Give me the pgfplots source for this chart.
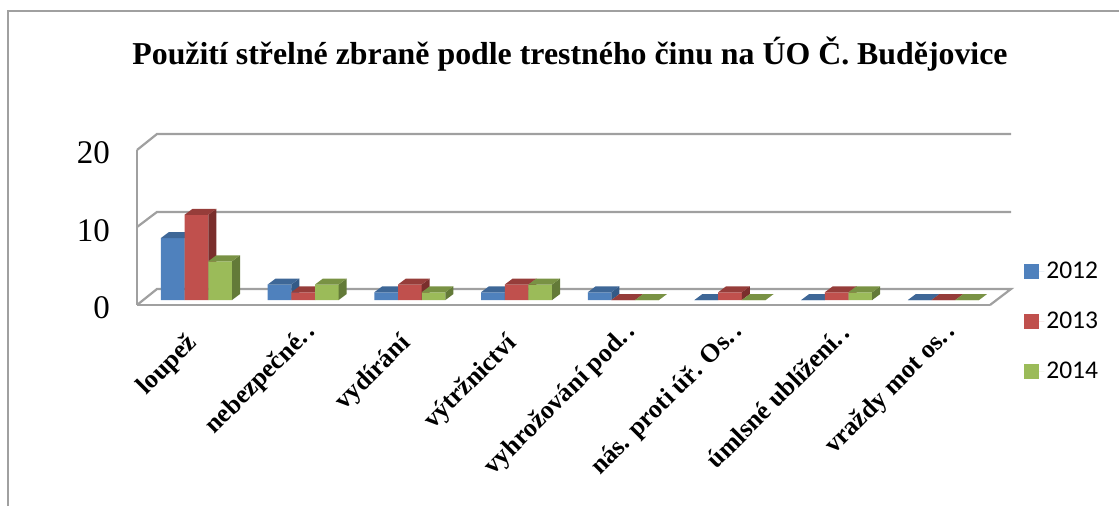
\documentclass[border=0pt]{standalone}
\usepackage{pgfplots}
\usepackage{pgfplotstable}
\usepackage{fontspec}
\pgfplotsset{compat=1.18}
\setmainfont{Liberation Serif}
\newfontfamily\carlito{Carlito}
\definecolor{bluef}{HTML}{4F81BD}
\definecolor{bluet}{HTML}{3E6797}
\definecolor{blues}{HTML}{335A87}
\definecolor{redf}{HTML}{C0504D}
\definecolor{redt}{HTML}{963D3A}
\definecolor{reds}{HTML}{7A2E2C}
\definecolor{greenf}{HTML}{9BBB59}
\definecolor{greent}{HTML}{799244}
\definecolor{greens}{HTML}{637A38}
\definecolor{wall}{HTML}{A0A0A0}
\pgfplotstableread{
idx y2012 y2013 y2014
0 8 11 5
1 2 1 2
2 1 2 1
3 1 2 2
4 1 0 0
5 0 1 0
6 0 1 1
7 0 0 0
}\counts
\newcommand{\faces}[4]{%
  \pgfplotsforeachungrouped \ii in {0,...,7}{%
    \pgfplotstablegetelem{\ii}{#1}\of\counts
    \let\vv\pgfplotsretval
    \pgfmathsetmacro\xb{\ii+(#2)+0.111}%
    \pgfmathsetmacro\xa{\xb-0.222}%
    \pgfmathsetmacro\xc{\xb+0.075}%
    \pgfmathsetmacro\xd{\xa+0.075}%
    \pgfmathsetmacro\yb{\vv+0.774}%
    \edef\temp{%
      \noexpand\addplot[fill=#4,draw=none,forget plot] coordinates {(\xb,0)(\xc,0.774)(\xc,\yb)(\xb,\vv)} -- cycle;
      \noexpand\addplot[fill=#3,draw=none,forget plot] coordinates {(\xa,\vv)(\xb,\vv)(\xc,\yb)(\xd,\yb)} -- cycle;
    }%
    \temp
  }%
}
\newcommand{\dd}{\rlap{.\hspace{0.12em}.}}
\begin{document}
\begin{tikzpicture}
\path[use as bounding box] (0,0) rectangle (1119pt,506pt);
\draw[wall,line width=2.2pt] (8pt,0pt) -- (8pt,495pt) -- (1119pt,495pt);
\begin{axis}[
  at={(137pt,201pt)},anchor=south west,
  scale only axis,width=853pt,height=155pt,
  xmin=-0.5576,xmax=7.4367,ymin=-0.645,ymax=19.355,
  clip=false,
  axis x line*=bottom,axis y line*=left,
  axis line style={wall,line width=2.2pt,-},
  major tick length=0pt,
  xtick={0,...,7},
  xticklabels={loupež,nebezpečné\dd,vydírání,výtržnictví,vyhrožování pod\dd,nás. proti úř. Os\dd,úmlsné ublížení\dd,vraždy mot os\dd},
  xticklabel style={font=\bfseries\fontsize{26}{26}\selectfont,rotate=45,anchor=east,inner sep=0pt,xshift=-26.9pt,yshift=-22.6pt},
  ytick={-0.645,9.355,19.355},
  yticklabels={0,10,20},
  yticklabel style={font=\fontsize{33}{33}\selectfont,inner sep=0pt,anchor=east,xshift=-27pt,yshift=-3pt},
  title={\bfseries Použití střelné zbraně podle trestného činu na ÚO Č. Budějovice},
  title style={font=\fontsize{31.85}{32}\selectfont,at={(0.5076,1.58)},anchor=center,inner sep=0pt},
  legend style={at={(1.04,0.29)},anchor=north west,draw=none,fill=none,font=\carlito\fontsize{25.5}{25.5}\selectfont,row sep=28pt,inner sep=0pt,cells={anchor=west}},
  lg/.style={legend image code/.code={\path (0pt,0pt) -- (20pt,0pt);\fill[##1] (0pt,-7.5pt) rectangle (15pt,7.5pt);}},
]
% walls
\addplot[wall,line width=2.2pt,forget plot] coordinates {(-0.5576,-0.645)(-0.3702,1.419)(7.6335,1.419)(7.4367,-0.645)};
\addplot[wall,line width=2.2pt,forget plot] coordinates {(-0.5576,9.419)(-0.3702,11.355)(7.6335,11.355)};
\addplot[wall,line width=2.2pt,forget plot] coordinates {(-0.5576,19.355)(-0.3702,21.419)(7.6335,21.419)};
% 2012
\addplot[ybar,bar width=23.7pt,bar shift=-23.7pt,fill=bluef,draw=none,lg] table[x=idx,y=y2012] {\counts};
\addlegendentry{2012}
\faces{y2012}{-0.222}{bluet}{blues}
% 2013
\addplot[ybar,bar width=23.7pt,bar shift=0pt,fill=redf,draw=none,lg] table[x=idx,y=y2013] {\counts};
\addlegendentry{2013}
\faces{y2013}{0}{redt}{reds}
% 2014
\addplot[ybar,bar width=23.7pt,bar shift=23.7pt,fill=greenf,draw=none,lg] table[x=idx,y=y2014] {\counts};
\addlegendentry{2014}
\faces{y2014}{0.222}{greent}{greens}
\end{axis}
\end{tikzpicture}
\end{document}
